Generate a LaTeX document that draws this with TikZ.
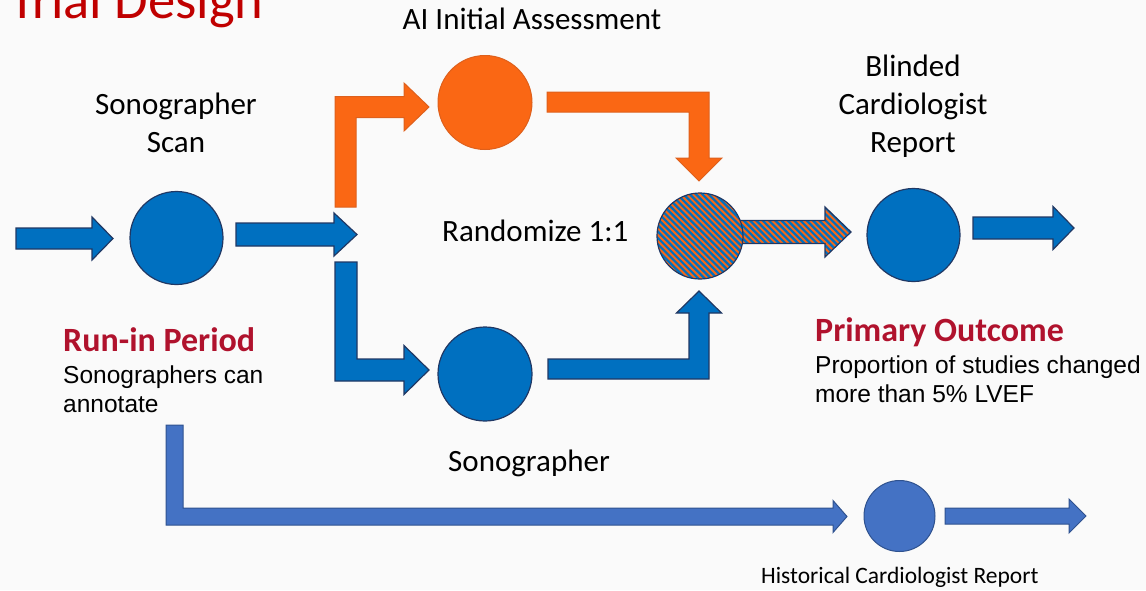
\documentclass[tikz,border=0pt]{standalone}
\usepackage{fontspec}
\setmainfont{Carlito}
\newfontfamily\arialf{Liberation Sans}
\usetikzlibrary{calc}
\definecolor{bg}{RGB}{250,250,250}
\definecolor{myblue}{RGB}{0,112,192}
\definecolor{navy}{RGB}{32,56,100}
\definecolor{myorange}{RGB}{250,103,20}
\definecolor{orangeline}{RGB}{222,96,28}
\definecolor{lblue}{RGB}{68,114,196}
\definecolor{lbline}{RGB}{47,82,143}
\definecolor{titlered}{RGB}{192,0,0}
\definecolor{labred}{RGB}{176,18,45}
% straight block arrow to the right: style, from, to, shaft half, head half, head length
\newcommand\hblock[6]{\draw[#1] let \p1=(#2), \p2=(#3) in
 (\x1,{\y2+#4}) -- ({\x2-#6},{\y2+#4}) -- ({\x2-#6},{\y2+#5}) -- (\x2,\y2)
 -- ({\x2-#6},{\y2-#5}) -- ({\x2-#6},{\y2-#4}) -- (\x1,{\y2-#4}) -- cycle;}
% vertical then right: s=1 going up, s=-1 going down
\newcommand\vhblock[7]{\draw[#1] let \p1=(#2), \p2=(#3) in
 ({\x1-#4},\y1) -- ({\x1-#4},{\y2+(#7)*#4}) -- ({\x2-#6},{\y2+(#7)*#4})
 -- ({\x2-#6},{\y2+(#7)*#5}) -- (\x2,\y2) -- ({\x2-#6},{\y2-(#7)*#5})
 -- ({\x2-#6},{\y2-(#7)*#4}) -- ({\x1+#4},{\y2-(#7)*#4}) -- ({\x1+#4},\y1) -- cycle;}
% right then vertical: s=1 going up, s=-1 going down
\newcommand\hvblock[7]{\draw[#1] let \p1=(#2), \p2=(#3) in
 (\x1,{\y1-(#7)*#4}) -- ({\x2+#4},{\y1-(#7)*#4}) -- ({\x2+#4},{\y2-(#7)*#6})
 -- ({\x2+#5},{\y2-(#7)*#6}) -- (\x2,\y2) -- ({\x2-#5},{\y2-(#7)*#6})
 -- ({\x2-#4},{\y2-(#7)*#6}) -- ({\x2-#4},{\y1+(#7)*#4}) -- (\x1,{\y1+(#7)*#4}) -- cycle;}
\begin{document}
\begin{tikzpicture}[x=1pt,y=-1pt,
  bluefill/.style={fill=myblue, draw=navy, line width=1.2pt},
  orangefill/.style={fill=myorange, draw=orangeline, line width=1pt},
  lbluefill/.style={fill=lblue, draw=lbline, line width=1pt},
  hatch/.style={fill=myorange, draw=navy, line width=1.2pt,
    path picture={\foreach \k in {-25,...,25}{\draw[myblue, line width=2.2pt]
      ($(path picture bounding box.center)+(\k*6.3-90,-90)$) -- ++(180,180);}}},
  disc/.style={circle, inner sep=0pt, minimum size=#1},
  lbl/.style={font=\fontsize{31}{38}\selectfont, inner sep=0pt, align=center},
  redhead/.style={font=\fontsize{34}{40}\selectfont\bfseries, text=labred, inner sep=0pt, anchor=base west},
  bodytxt/.style={font=\arialf\fontsize{24.5}{29}\selectfont, inner sep=0pt, align=left, anchor=base west}
]
\fill[bg] (0,0) rectangle (1146,590);
\useasboundingbox (0,0) rectangle (1146,590);

% title (cut at top)
\node[anchor=base west, inner sep=0pt, font=\fontsize{54.5}{62}\selectfont, text=titlered] (title) at (9,18) {Trial Design};

% connector end points
\coordinate (inS) at (16,238.5);    \coordinate (inE) at (113,238.5);
\coordinate (splitS) at (236,234.5); \coordinate (splitE) at (357,234.5);
\coordinate (upS) at (345.5,207);    \coordinate (upE) at (429,107);
\coordinate (aiS) at (547,102);      \coordinate (aiE) at (699,181);
\coordinate (dnS) at (346,262);      \coordinate (dnE) at (429,370);
\coordinate (soS) at (548,369);      \coordinate (soE) at (699,291);
\coordinate (rdS) at (735,232);      \coordinate (rdE) at (851,232);
\coordinate (blS) at (973,228);      \coordinate (blE) at (1074,228);
\coordinate (hiS) at (174.5,425);    \coordinate (hiE) at (847,516.5);
\coordinate (hoS) at (945,516);      \coordinate (hoE) at (1086,516);

% block arrows
\hblock{bluefill}{inS}{inE}{10.5pt}{21.5pt}{21pt}
\hblock{bluefill}{splitS}{splitE}{11.5pt}{21.5pt}{23pt}
\vhblock{orangefill}{upS}{upE}{10.5pt}{24pt}{25pt}{1}
\hvblock{orangefill}{aiS}{aiE}{10pt}{23pt}{23pt}{-1}
\vhblock{bluefill}{dnS}{dnE}{11pt}{24.5pt}{25pt}{-1}
\hvblock{bluefill}{soS}{soE}{10pt}{22.5pt}{22pt}{1}
\hblock{hatch}{rdS}{rdE}{11.5pt}{25pt}{26pt}
\hblock{bluefill}{blS}{blE}{11pt}{21.5pt}{21pt}
\vhblock{lbluefill}{hiS}{hiE}{8.5pt}{16pt}{14pt}{-1}
\hblock{lbluefill}{hoS}{hoE}{8pt}{17pt}{17pt}

% circles
\node[disc=93pt, bluefill] (scan) at (176.5,238) {};
\node[disc=94pt, orangefill] (ai) at (485,102.5) {};
\node[disc=94pt, bluefill] (sono) at (485,374) {};
\node[disc=86pt, hatch] (rand) at (700,236) {};
\node[disc=93pt, bluefill] (blind) at (913.5,235) {};
\node[disc=71pt, lbluefill] (hist) at (899.5,516) {};

% labels (multi-line nodes: base = last line)
\node[lbl, anchor=base] (aiLbl) at (532,29) {AI Initial Assessment};
\node[lbl, anchor=base] (scanLbl) at (176,152) {Sonographer\\Scan};
\node[lbl, anchor=base] (blindLbl) at (913,152) {Blinded\\Cardiologist\\Report};
\node[lbl, anchor=base west] (randLbl) at (442,241) {Randomize 1:1};
\node[lbl, anchor=base west] (sonoLbl) at (448,471) {Sonographer};
\node[lbl, anchor=base west, font=\fontsize{23.5}{28}\selectfont] (histLbl) at (761,583) {Historical Cardiologist Report};

\node[redhead] (runin) at (63,351) {Run-in Period};
\node[bodytxt] (runinTxt) at (63,412) {Sonographers can\\annotate};
\node[redhead] (primary) at (815,341) {Primary Outcome};
\node[bodytxt] (primaryTxt) at (815,402) {Proportion of studies changed\\more than 5\% LVEF};
\end{tikzpicture}
\end{document}
